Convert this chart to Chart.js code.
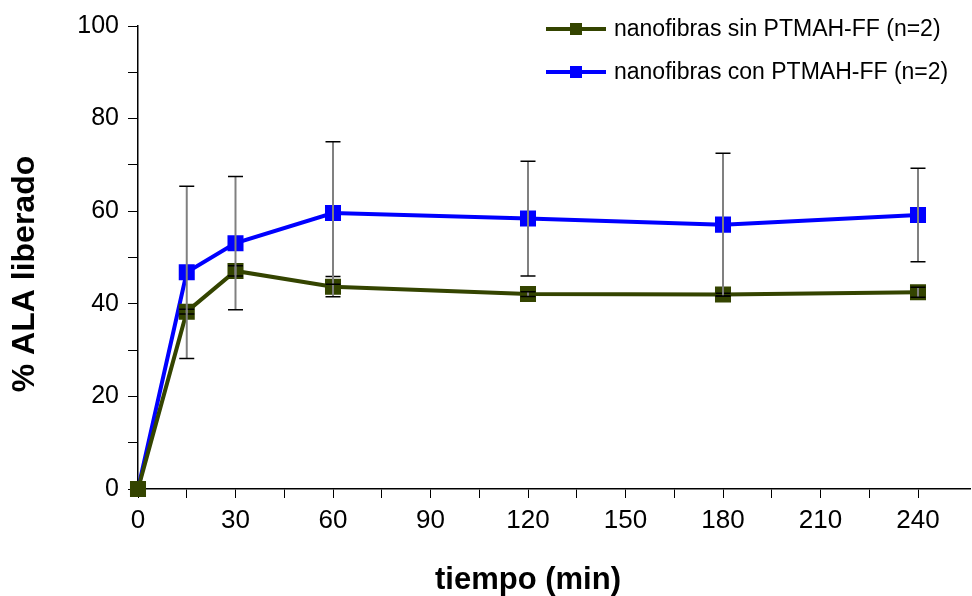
<!DOCTYPE html>
<html>
<head>
<meta charset="utf-8">
<script src="https://cdn.jsdelivr.net/npm/chart.js@4.4.1/dist/chart.umd.min.js"></script>
<style>
  html, body { margin: 0; padding: 0; background: #fff; }
</style>
</head>
<body>
<canvas id="grafico" width="972" height="596"></canvas>
<script>
// tiempos de muestreo (min)
const tiempos = [0, 15, 30, 60, 120, 180, 240]
// % ALA liberado
const sinPTMAH = [0, 38.3, 47.1, 43.7, 42.1, 42.0, 42.5]
const sinPTMAHErr = [0, 0.5, 1.1, 2.2, 0.5, 0.3, 1.1]
const conPTMAH = [0, 46.8, 53.1, 59.6, 58.4, 57.1, 59.2]
const conPTMAHErr = [0, 18.6, 14.4, 15.4, 12.4, 15.4, 10.1]

const etiquetas = ['nanofibras sin PTMAH-FF (n=2)', 'nanofibras con PTMAH-FF (n=2)']
const colores = ['#344400', '#0000ff']
const tituloX = 'tiempo (min)'
const tituloY = '% ALA liberado'

const fuente = "'Liberation Sans', Arial, sans-serif"

const puntos = (ys) => tiempos.map((t, i) => ({ x: t, y: ys[i] }))

// barras de error
const barrasError = {
    id: 'barrasError',
    afterDatasetsDraw(chart) {
        const ctx = chart.ctx
        const xs = chart.scales.x
        const ys = chart.scales.y
        const errores = [sinPTMAHErr, conPTMAHErr]
        const valores = [sinPTMAH, conPTMAH]
        ctx.save()
        errores.forEach((err, d) => {
            tiempos.forEach((t, i) => {
                if (!err[i]) return
                const px = xs.getPixelForValue(t)
                const top = ys.getPixelForValue(valores[d][i] + err[i])
                const bot = ys.getPixelForValue(valores[d][i] - err[i])
                ctx.strokeStyle = '#808080'
                ctx.lineWidth = 2
                ctx.beginPath()
                ctx.moveTo(px, top)
                ctx.lineTo(px, bot)
                ctx.stroke()
                ctx.strokeStyle = '#000'
                ctx.lineWidth = 1.5
                ctx.beginPath()
                ctx.moveTo(px - 7.5, top)
                ctx.lineTo(px + 7.5, top)
                ctx.moveTo(px - 7.5, bot)
                ctx.lineTo(px + 7.5, bot)
                ctx.stroke()
            })
        })
        ctx.restore()
    }
}

// leyenda arriba a la derecha y titulos de los ejes
const textos = {
    id: 'textos',
    afterDraw(chart) {
        const ctx = chart.ctx
        ctx.save()
        etiquetas.forEach((txt, i) => {
            const y = 29 + i * 43
            ctx.strokeStyle = colores[i]
            ctx.fillStyle = colores[i]
            ctx.lineWidth = 4
            ctx.beginPath()
            ctx.moveTo(546, y)
            ctx.lineTo(606, y)
            ctx.stroke()
            ctx.fillRect(570, y - 6, 12, 12)
            ctx.fillStyle = '#000'
            ctx.font = '23px ' + fuente
            ctx.textBaseline = 'middle'
            ctx.textAlign = 'left'
            ctx.fillText(txt, 614, y + 1)
        })
        ctx.fillStyle = '#000'
        ctx.textAlign = 'center'
        ctx.textBaseline = 'middle'
        ctx.font = 'bold 31px ' + fuente
        ctx.fillText(tituloX, chart.scales.x.getPixelForValue(120), 580)
        ctx.translate(25, 274)
        ctx.rotate(-Math.PI / 2)
        ctx.font = 'bold 32px ' + fuente
        ctx.fillText(tituloY, 0, 0)
        ctx.restore()
    }
}

new Chart(document.getElementById('grafico'), {
    type: 'line',
    data: {
        datasets: [{
            label: etiquetas[0],
            data: puntos(sinPTMAH),
            borderColor: colores[0],
            backgroundColor: colores[0],
            borderWidth: 4,
            pointStyle: 'rect',
            pointRadius: 8.5,
            pointHoverRadius: 8.5,
            tension: 0
        }, {
            label: etiquetas[1],
            data: puntos(conPTMAH),
            borderColor: colores[1],
            backgroundColor: colores[1],
            borderWidth: 4,
            pointStyle: 'rect',
            pointRadius: 8.5,
            pointHoverRadius: 8.5,
            tension: 0
        }]
    },
    options: {
        responsive: false,
        animation: false,
        clip: false,
        layout: { autoPadding: false, padding: { top: 26, right: 2, left: 0, bottom: 0 } },
        plugins: {
            legend: { display: false },
            tooltip: { enabled: false }
        },
        scales: {
            x: {
                type: 'linear',
                min: 0,
                max: 256,
                afterBuildTicks: (s) => { s.ticks = s.ticks.filter(t => t.value % 15 === 0) },
                afterFit: (s) => { s.height = 107; s.paddingRight = 0 },
                ticks: {
                    stepSize: 15,
                    autoSkip: false,
                    maxRotation: 0,
                    padding: 7,
                    color: '#000',
                    font: { family: fuente, size: 26 },
                    callback: (v) => v % 30 === 0 ? v : ''
                },
                grid: {
                    drawOnChartArea: false,
                    tickLength: 9,
                    color: '#000',
                    tickColor: '#000'
                },
                border: { color: '#000', width: 1.5 }
            },
            y: {
                min: 0,
                max: 100,
                afterFit: (s) => { s.width = 138 },
                ticks: {
                    stepSize: 10,
                    autoSkip: false,
                    padding: 9,
                    color: '#000',
                    font: { family: fuente, size: 25 },
                    callback: (v) => v % 20 === 0 ? v : ''
                },
                grid: {
                    drawOnChartArea: false,
                    tickLength: 10,
                    color: '#000',
                    tickColor: '#000'
                },
                border: { color: '#000', width: 1.5 }
            }
        }
    },
    plugins: [barrasError, textos]
})
</script>
</body>
</html>
